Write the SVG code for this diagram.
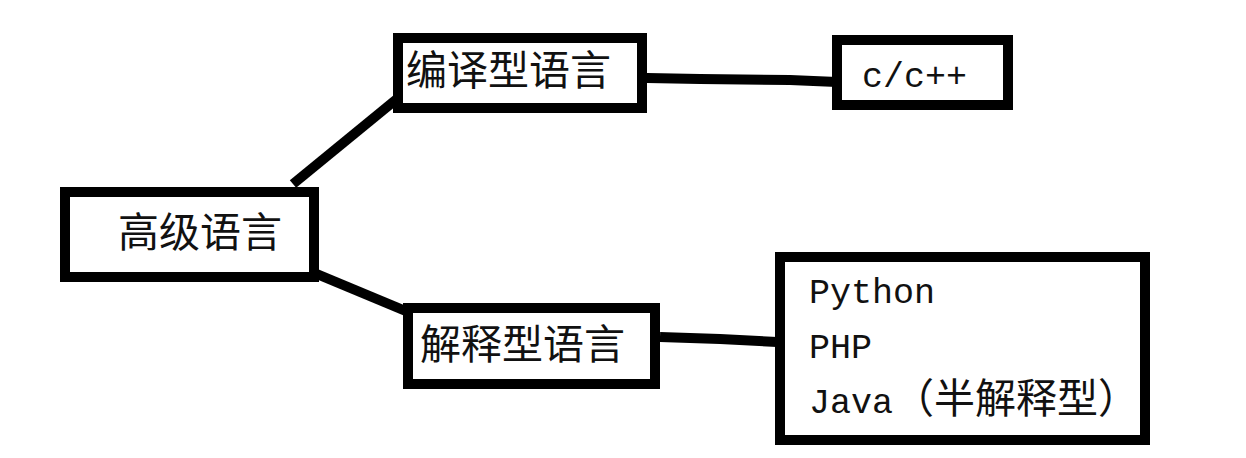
<svg xmlns="http://www.w3.org/2000/svg" width="1246" height="458" viewBox="0 0 1246 458">
  <style>
    .box { fill: #ffffff; stroke: #000000; stroke-width: 10; }
    .conn { fill: none; stroke: #000000; stroke-width: 10; stroke-linecap: butt; }
    .cjk { font-family: "Noto Sans CJK SC", "Noto Sans", sans-serif; font-size: 41px; fill: #111111; }
    .lat { font-family: "Liberation Mono", "DejaVu Sans Mono", monospace; font-size: 35px; fill: #111111; }
  </style>
  <rect width="1246" height="458" fill="#ffffff"/>
  <g id="connectors">
    <line class="conn" x1="293" y1="184" x2="398" y2="98"/>
    <line class="conn" x1="312" y1="272" x2="408" y2="312"/>
    <path class="conn" d="M647 78 L700 79 L790 80 L837 82" style="stroke-linecap:round"/>
    <path class="conn" d="M660 337 L720 339 L777 342"/>
  </g>
  <g id="node-gaoji">
    <rect class="box" x="65" y="192" width="249" height="85"/>
    <text class="cjk" x="118" y="247">高级语言</text>
  </g>
  <g id="node-bianyi">
    <rect class="box" x="398" y="38" width="244" height="70"/>
    <text class="cjk" x="406" y="85">编译型语言</text>
  </g>
  <g id="node-jieshi">
    <rect class="box" x="408" y="308" width="247" height="76"/>
    <text class="cjk" x="420" y="359">解释型语言</text>
  </g>
  <g id="node-c">
    <rect class="box" x="837" y="40" width="171" height="65"/>
    <text class="lat" x="862" y="87">c/c++</text>
  </g>
  <g id="node-python">
    <rect class="box" x="780" y="257" width="365" height="183"/>
    <text class="lat" x="809" y="303">Python</text>
    <text class="lat" x="809" y="358">PHP</text>
    <text x="809" y="413"><tspan class="lat">Java</tspan><tspan class="cjk">（半解释型）</tspan></text>
  </g>
</svg>
